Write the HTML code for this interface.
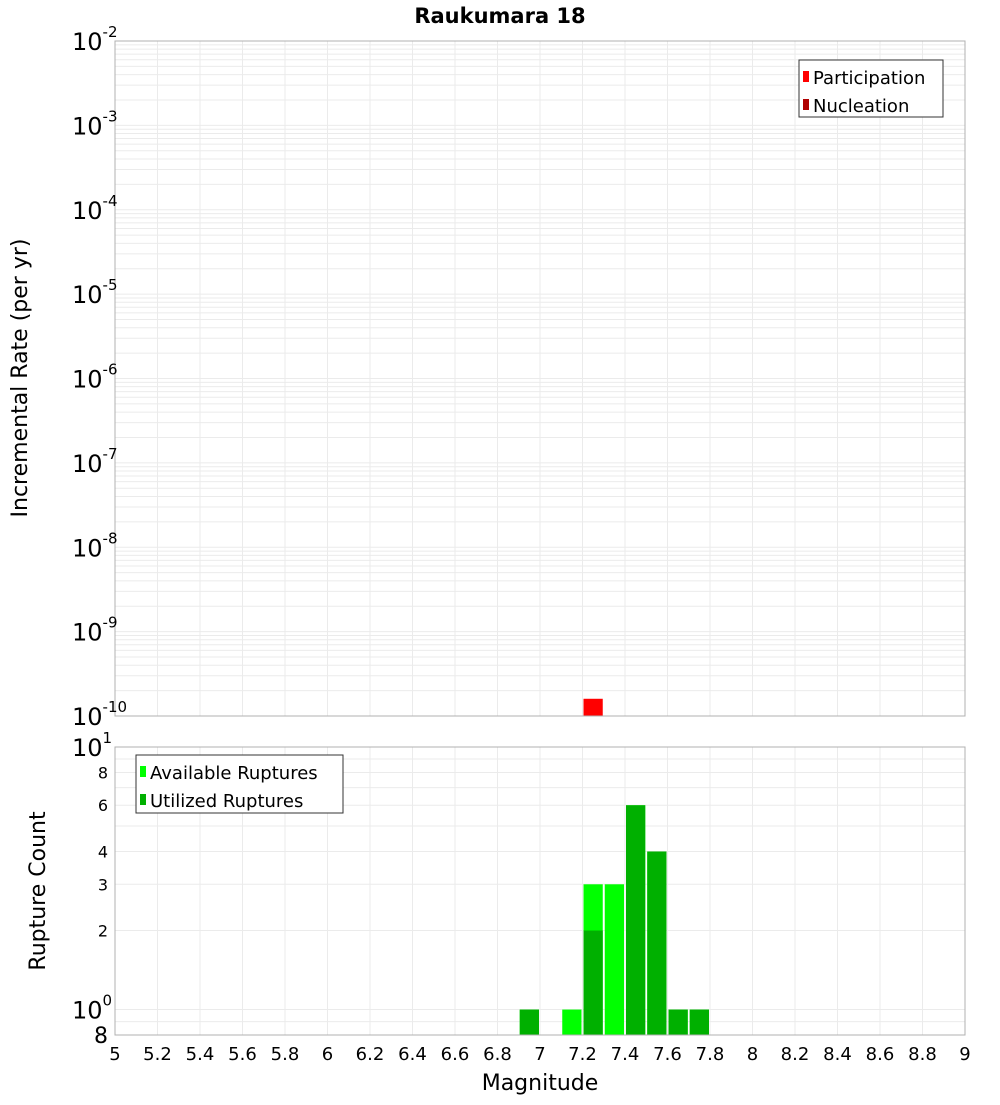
<!DOCTYPE html>
<html><head><meta charset="utf-8"><style>
body{margin:0;background:#fff;}
svg{font-family:"DejaVu Sans","Liberation Sans",sans-serif;}
</style></head><body>
<svg id="c" width="1000" height="1100" xmlns="http://www.w3.org/2000/svg">
<text x="500" y="23" text-anchor="middle" font-size="21" font-weight="bold">Raukumara 18</text>
<text transform="translate(27,378) rotate(-90)" text-anchor="middle" font-size="22">Incremental Rate (per yr)</text>
<text transform="translate(45,891) rotate(-90)" text-anchor="middle" font-size="22">Rupture Count</text>
<text x="540" y="1090" text-anchor="middle" font-size="22">Magnitude</text>
<g id="g"></g>
</svg>
<script>
const rateMags=[7.25];
const partRates=[1.6e-10];
const nuclRates=[];
const countMags=[6.95,7.15,7.25,7.35,7.45,7.55,7.65,7.75];
const availCounts=[1,1,3,3,6,4,1,1];
const utilCounts=[1,0,2,0,6,4,1,1];
const xTicks=[5,5.2,5.4,5.6,5.8,6,6.2,6.4,6.6,6.8,7,7.2,7.4,7.6,7.8,8,8.2,8.4,8.6,8.8,9];
const topExps=[-2,-3,-4,-5,-6,-7,-8,-9,-10];
const botTicks=[8,6,4,3,2];

const NS="http://www.w3.org/2000/svg";
const g=document.getElementById('g');
function el(t,a,txt){const e=document.createElementNS(NS,t);for(const k in a)e.setAttribute(k,a[k]);if(txt!==undefined)e.textContent=txt;g.appendChild(e);return e;}
const L=115,R=965;
const x=m=>L+(m-5)/4*(R-L);
const T1=41,B1=716;
const yTop=v=>B1-(Math.log10(v)+10)/8*(B1-T1);
const T2=747,B2=1035;
const lo=Math.log10(0.8),hi=1;
const yBot=v=>B2-(Math.log10(v)-lo)/(hi-lo)*(B2-T2);

// grids
for(const t of xTicks){
  let e=el('line',{x1:x(t),x2:x(t),y1:T1,y2:B1,stroke:'#ebebeb'});
  
  e=el('line',{x1:x(t),x2:x(t),y1:T2,y2:B2,stroke:'#ebebeb'});
  
}
for(let d=-10;d<-2;d++)for(let k=1;k<10;k++){
  const y=yTop(k*Math.pow(10,d));
  const e=el('line',{x1:L,x2:R,y1:y,y2:y,stroke:'#ebebeb'});
  
}
for(const v of [0.8,0.9,1,2,3,4,5,6,7,8,9,10]){
  const y=yBot(v);
  const e=el('line',{x1:L,x2:R,y1:y,y2:y,stroke:'#ebebeb'});
  
}
// top bars
rateMags.forEach((m,i)=>{
  const r=el('rect',{x:x(m-0.05)+1,y:yTop(partRates[i]),width:x(m+0.05)-x(m-0.05)-2,height:B1-yTop(partRates[i]),fill:'#ff0000'});
  
});
// bottom bars
countMags.forEach((m,i)=>{
  const x0=x(m-0.05)+1,w=x(m+0.05)-x(m-0.05)-2;
  if(availCounts[i]>0){const r=el('rect',{x:x0,y:yBot(availCounts[i]),width:w,height:B2-yBot(availCounts[i]),fill:'#00ff00'});
  }
  if(utilCounts[i]>0){const r=el('rect',{x:x0,y:yBot(utilCounts[i]),width:w,height:B2-yBot(utilCounts[i]),fill:'#00b000'});
  }
});
// frames
let f=el('rect',{x:L,y:T1,width:R-L,height:B1-T1,fill:'none',stroke:'#b0b0b0'});

f=el('rect',{x:L,y:T2,width:R-L,height:B2-T2,fill:'none',stroke:'#b0b0b0'});

// x tick labels
for(const t of xTicks){
  const e=el('text',{x:x(t),y:1060,'text-anchor':'middle','font-size':'18'},String(t));
  
}
// top y tick labels
for(const p of topExps){
  const y=yTop(Math.pow(10,p));
  const e=el('text',{x:72,y:y+9,'font-size':'24'});
  
  const t1=document.createElementNS(NS,'tspan');t1.textContent='10';e.appendChild(t1);
  const t2=document.createElementNS(NS,'tspan');t2.setAttribute('font-size','15');t2.setAttribute('dy','-13');t2.textContent=String(p);e.appendChild(t2);
}
// bottom y labels
for(const [v,lab] of [[10,'1'],[1,'0']]){
  const y=yBot(v);
  const e=el('text',{x:72,y:y+9,'font-size':'24'});
  
  const t1=document.createElementNS(NS,'tspan');t1.textContent='10';e.appendChild(t1);
  const t2=document.createElementNS(NS,'tspan');t2.setAttribute('font-size','15');t2.setAttribute('dy','-13');t2.textContent=lab;e.appendChild(t2);
}
for(const v of botTicks){
  const e=el('text',{x:108,y:yBot(v)+6,'text-anchor':'end','font-size':'16'},String(v));
  
}
let e8=el('text',{x:108,y:1043,'text-anchor':'end','font-size':'22'},'8');

// legends
function legend(x0,y0,w,h,items,name){
  const r=el('rect',{x:x0,y:y0,width:w,height:h,fill:'#fff',stroke:'#333'});
  
  items.forEach(([c,t],i)=>{
    const yy=y0+18+i*28;
    const s=el('rect',{x:x0+4,y:yy-7,width:6,height:11,fill:c});
    
    const tx=el('text',{x:x0+14,y:yy+6,'font-size':'18'},t);
    
  });
}
legend(799,60,144,57,[['#ff0000','Participation'],['#b00000','Nucleation']],'top-legend');
legend(136,755,207,58,[['#00ff00','Available Ruptures'],['#00b000','Utilized Ruptures']],'bottom-legend');
</script>
</body></html>
